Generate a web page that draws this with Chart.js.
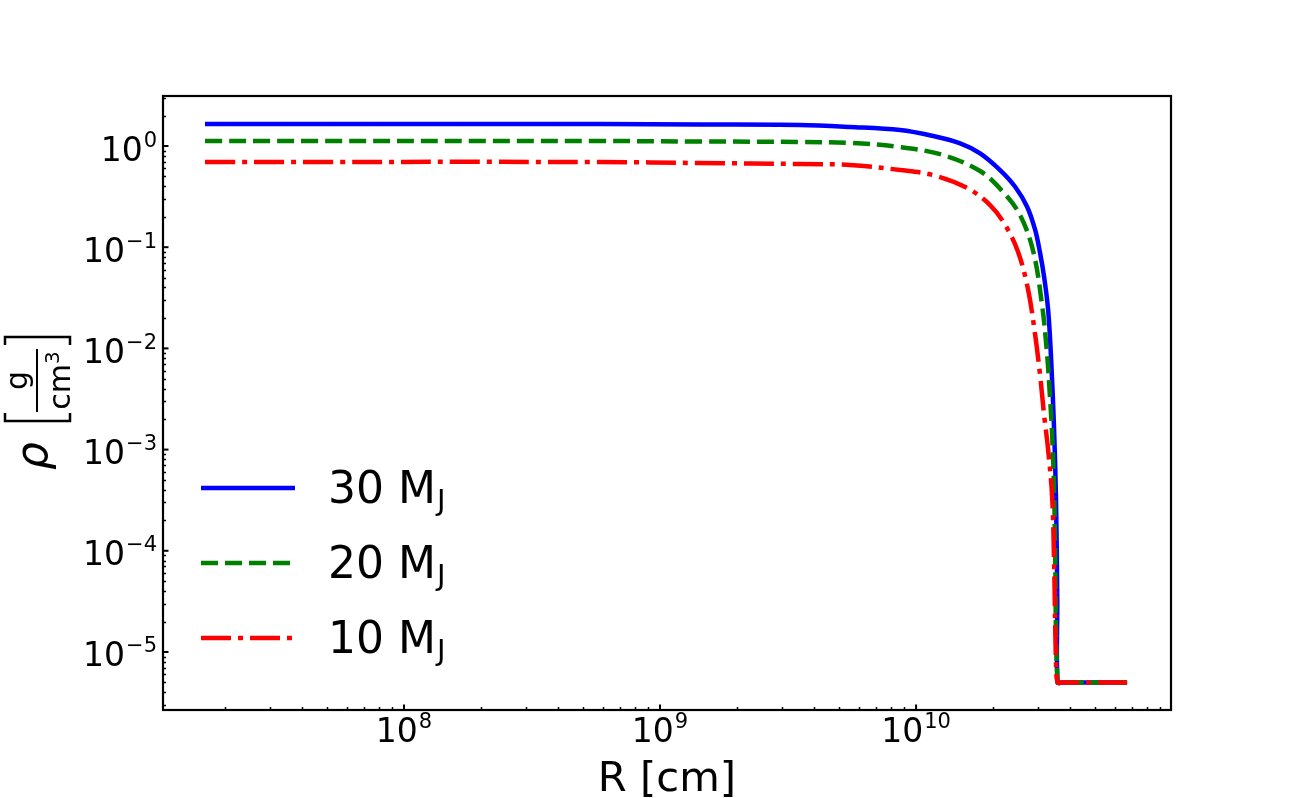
<!DOCTYPE html>
<html lang="en">
<head>
    <meta charset="UTF-8">
    <title>Density profile</title>
    <script src="https://cdn.jsdelivr.net/npm/chart.js"></script>
    <style>
        body {
            margin: 0;
            padding: 0;
            background-color: #ffffff;
        }

        .chart-container {
            width: 1301px;
            height: 798px;
        }
    </style>
</head>
<body>

    <div class="chart-container">
        <canvas id="rhoChart" width="1301" height="798"></canvas>
    </div>

    <script>
        // Radius [cm] and density [g/cm^3]
        const r30   = [1.67e7, 5.84e8, 1.432e9, 3.52e9, 5.52e9, 8.66e9, 1.165e10, 1.486e10, 1.778e10, 2.128e10,
                       2.437e10, 2.714e10, 2.918e10, 3.05e10, 3.162e10, 3.28e10, 3.37e10, 3.46e10, 3.52e10, 3.56e10,
                       3.57e10, 3.72e10, 6.67e10];
        const rho30 = [1.648, 1.648, 1.631, 1.614, 1.542, 1.439, 1.256, 1.063, 0.847, 0.579,
                       0.396, 0.251, 0.148, 0.0877, 0.0511, 0.0239, 7.67e-3, 1.56e-3, 3.18e-4, 3.27e-5,
                       5e-6, 5e-6, 5e-6];

        const r20   = [1.67e7, 5.84e8, 1.432e9, 3.52e9, 5.52e9, 8.66e9, 1.274e10, 1.778e10, 2.188e10, 2.547e10,
                       2.866e10, 3.105e10, 3.25e10, 3.34e10, 3.40e10, 3.46e10, 3.49e10, 3.57e10, 3.72e10, 6.67e10];
        const rho20 = [1.12, 1.12, 1.108, 1.096, 1.072, 0.977, 0.815, 0.566, 0.351, 0.208,
                       0.0916, 0.0269, 8.61e-3, 3.09e-3, 1.39e-3, 3.99e-4, 1.09e-4, 5e-6, 5e-6, 5e-6];

        const r10   = [1.67e7, 5.84e8, 1.432e9, 3.52e9, 5.52e9, 8.66e9, 1.165e10, 1.582e10, 1.945e10, 2.228e10,
                       2.503e10, 2.74e10, 2.918e10, 3.05e10, 3.162e10, 3.28e10, 3.40e10, 3.46e10, 3.52e10, 3.57e10,
                       3.72e10, 6.67e10];
        const rho10 = [0.695, 0.695, 0.679, 0.664, 0.649, 0.579, 0.516, 0.385, 0.261, 0.166,
                       0.0897, 0.0378, 0.0136, 5.46e-3, 2.20e-3, 9.91e-4, 3.40e-4, 7.57e-5, 7.78e-6, 5e-6,
                       5e-6, 5e-6];

        const seriesMass = ['30', '20', '10'];

        // axis limits and decade labels
        const xLimits = [1.145e7, 9.9e10];
        const yLimits = [2.67e-6, 3.12];
        const xTickExp = [8, 9, 10];
        const yTickExp = [0, -1, -2, -3, -4, -5];

        const FONT = '"DejaVu Sans", "Liberation Sans", sans-serif';

        function toPoints(rs, rhos) {
            return rs.map((r, i) => ({ x: r, y: rhos[i] }));
        }

        // "10" with a raised exponent, like matplotlib mathtext
        function powLabel(ctx, exp, xPos, baseY, align) {
            const main = '10';
            const sup = exp < 0 ? '\u2212' + (-exp) : String(exp);
            ctx.font = '33px ' + FONT;
            const wm = ctx.measureText(main).width;
            ctx.font = '21px ' + FONT;
            const ws = ctx.measureText(sup).width;
            const total = wm + 1 + ws;
            const x0 = align === 'center' ? xPos - total / 2 : xPos - total;
            ctx.textAlign = 'left';
            ctx.textBaseline = 'alphabetic';
            ctx.font = '33px ' + FONT;
            ctx.fillText(main, x0, baseY);
            ctx.font = '21px ' + FONT;
            ctx.fillText(sup, x0 + wm + 1, baseY - 14);
        }

        function minorValues(min, max) {
            const out = [];
            for (let e = Math.floor(Math.log10(min)); e <= Math.ceil(Math.log10(max)); e++) {
                for (let m = 2; m <= 9; m++) {
                    const v = m * Math.pow(10, e);
                    if (v >= min && v <= max) out.push(v);
                }
            }
            return out;
        }

        const axesPlugin = {
            id: 'mplAxes',
            afterDraw(chart) {
                const ctx = chart.ctx;
                const a = chart.chartArea;
                const xs = chart.scales.x;
                const ys = chart.scales.y;
                ctx.save();
                ctx.fillStyle = '#000000';
                ctx.strokeStyle = '#000000';

                // inward ticks, bottom and left only
                ctx.lineWidth = 1.5;
                minorValues(xLimits[0], xLimits[1]).forEach(v => {
                    const px = Math.round(xs.getPixelForValue(v)) + 0.5;
                    ctx.beginPath(); ctx.moveTo(px, a.bottom); ctx.lineTo(px, a.bottom - 3); ctx.stroke();
                });
                minorValues(yLimits[0], yLimits[1]).forEach(v => {
                    const py = Math.round(ys.getPixelForValue(v)) + 0.5;
                    ctx.beginPath(); ctx.moveTo(a.left, py); ctx.lineTo(a.left + 3, py); ctx.stroke();
                });
                ctx.lineWidth = 2;
                xTickExp.forEach(e => {
                    const px = xs.getPixelForValue(Math.pow(10, e));
                    ctx.beginPath(); ctx.moveTo(px, a.bottom); ctx.lineTo(px, a.bottom - 5.5); ctx.stroke();
                    powLabel(ctx, e, px, a.bottom + 32, 'center');
                });
                yTickExp.forEach(e => {
                    const py = ys.getPixelForValue(Math.pow(10, e));
                    ctx.beginPath(); ctx.moveTo(a.left, py); ctx.lineTo(a.left + 5.5, py); ctx.stroke();
                    powLabel(ctx, e, a.left - 6, py + 14.5, 'right');
                });

                // frame
                ctx.lineWidth = 2.2;
                ctx.strokeRect(a.left, a.top, a.right - a.left, a.bottom - a.top);

                // x title
                ctx.font = '41.7px ' + FONT;
                ctx.textAlign = 'center';
                ctx.textBaseline = 'alphabetic';
                ctx.fillText('R [cm]', (a.left + a.right) / 2, 791);

                // y title: rho [g / cm^3]
                ctx.save();
                ctx.translate(47, 470);
                ctx.rotate(-Math.PI / 2);
                ctx.textAlign = 'left';
                ctx.font = 'italic 44px ' + FONT;
                ctx.fillText('\u03c1', 0, 0);
                ctx.lineWidth = 2.5;
                ctx.beginPath();
                ctx.moveTo(57, -42); ctx.lineTo(49, -42); ctx.lineTo(49, 23); ctx.lineTo(57, 23);
                ctx.moveTo(125, -42); ctx.lineTo(133, -42); ctx.lineTo(133, 23); ctx.lineTo(125, 23);
                ctx.stroke();
                ctx.lineWidth = 2;
                ctx.beginPath(); ctx.moveTo(58, -10); ctx.lineTo(121, -10); ctx.stroke();
                ctx.textAlign = 'center';
                ctx.font = '30px ' + FONT;
                ctx.fillText('g', 89.5, -20);
                const wcm = ctx.measureText('cm').width;
                ctx.font = '20px ' + FONT;
                const w3 = ctx.measureText('3').width;
                const c0 = 89.5 - (wcm + w3) / 2;
                ctx.textAlign = 'left';
                ctx.font = '30px ' + FONT;
                ctx.fillText('cm', c0, 23);
                ctx.font = '20px ' + FONT;
                ctx.fillText('3', c0 + wcm, 12);
                ctx.restore();

                // legend
                chart.data.datasets.forEach((ds, i) => {
                    const ly = 488 + 75 * i;
                    ctx.save();
                    ctx.strokeStyle = ds.borderColor;
                    ctx.lineWidth = ds.borderWidth;
                    ctx.setLineDash(ds.borderDash || []);
                    ctx.beginPath(); ctx.moveTo(201, ly); ctx.lineTo(295, ly); ctx.stroke();
                    ctx.restore();
                    ctx.textAlign = 'left';
                    ctx.font = '44px ' + FONT;
                    const txt = seriesMass[i] + ' M';
                    ctx.fillText(txt, 328, ly + 15);
                    const w = ctx.measureText(txt).width;
                    ctx.font = '29px ' + FONT;
                    ctx.fillText('J', 328 + w + 1, ly + 22);
                });

                ctx.restore();
            }
        };

        const ctx = document.getElementById('rhoChart').getContext('2d');
        new Chart(ctx, {
            type: 'line',
            data: {
                datasets: [
                    {
                        label: '30 MJ',
                        data: toPoints(r30, rho30),
                        borderColor: '#0000ff',
                        borderWidth: 4.5,
                        order: 3
                    },
                    {
                        label: '20 MJ',
                        data: toPoints(r20, rho20),
                        borderColor: '#008000',
                        borderWidth: 4.5,
                        borderDash: [17, 7],
                        order: 2
                    },
                    {
                        label: '10 MJ',
                        data: toPoints(r10, rho10),
                        borderColor: '#ff0000',
                        borderWidth: 4.5,
                        borderDash: [30, 7, 5, 7],
                        order: 1
                    }
                ]
            },
            options: {
                responsive: false,
                animation: false,
                devicePixelRatio: 1,
                layout: { padding: { left: 163, top: 96, right: 130, bottom: 88 } },
                elements: {
                    point: { radius: 0 },
                    line: { tension: 0.35, fill: false }
                },
                scales: {
                    x: { type: 'logarithmic', min: xLimits[0], max: xLimits[1], display: false },
                    y: { type: 'logarithmic', min: yLimits[0], max: yLimits[1], display: false }
                },
                plugins: {
                    legend: { display: false },
                    tooltip: { enabled: false }
                }
            },
            plugins: [axesPlugin]
        });
    </script>
</body>
</html>
